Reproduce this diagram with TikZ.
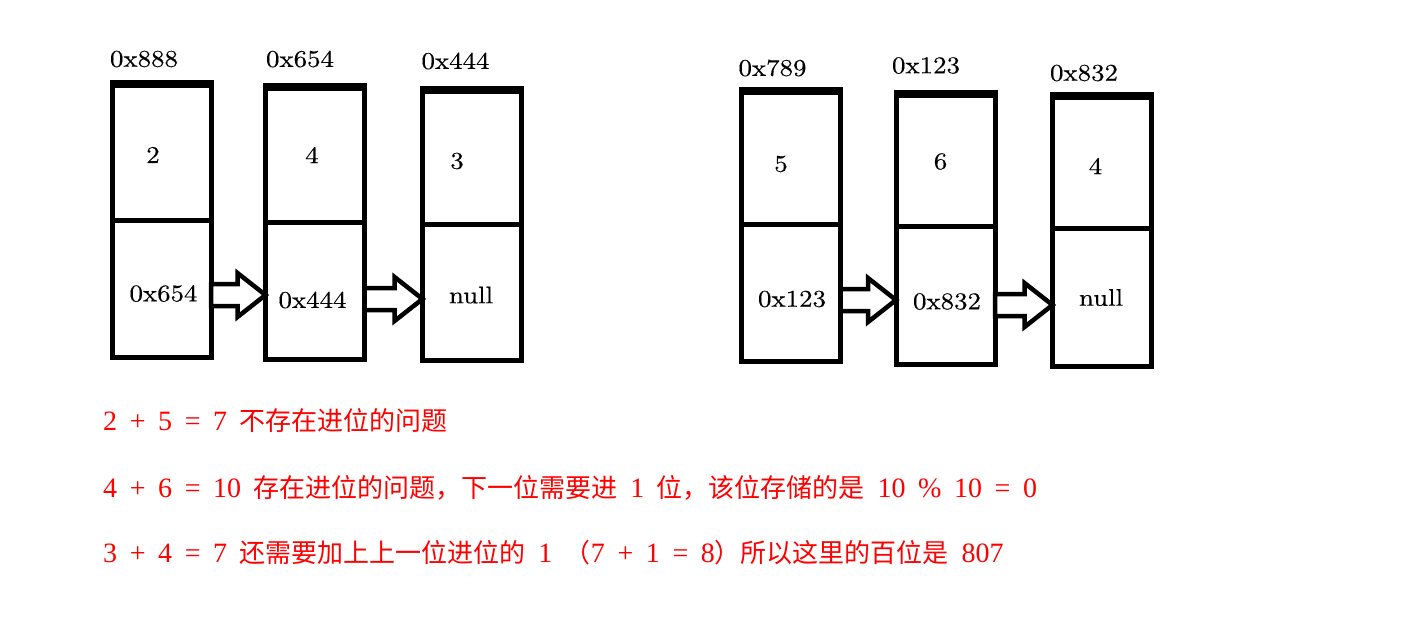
\documentclass[tikz,border=0pt]{standalone}
\usepackage{fontspec}
\newfontfamily\cjk{Noto Sans CJK SC}
\newfontfamily\lat{Liberation Serif}[WordSpace=1.8]
\newfontfamily\boxfont{lmroman10-regular.otf}[FakeStretch=1.12,FakeBold=0.4]
\usetikzlibrary{calc}
\newcommand\asc[1]{{\lat\fontsize{28}{30}\selectfont #1}}
\newcommand\han[1]{{\cjk\fontsize{26}{30}\selectfont #1}}
\tikzset{
  cell/.style={draw, line width=5pt, minimum width=99pt, inner sep=0pt, outer sep=0pt},
  addr/.style={font={\boxfont\fontsize{24}{24}\selectfont}, inner sep=0pt},
  barrow/.style={draw, line width=4.5pt, fill=white, line join=miter},
  note/.style={anchor=base west, text=red, inner sep=0pt},
}
\newcommand\linkarrow[3]{%
  \draw[barrow] let \p1=(#1.east), \p2=(#2.west) in
    (\x1,{-(#3-11)*1pt}) -- (\x2-28pt,{-(#3-11)*1pt}) -- (\x2-28pt,{-(#3-22)*1pt})
    -- (\x2,{-(#3)*1pt}) -- (\x2-28pt,{-(#3+22)*1pt}) -- (\x2-28pt,{-(#3+11)*1pt})
    -- (\x1,{-(#3+11)*1pt}) -- cycle;}
\newcommand\topbar[1]{%
  \fill ([shift={(-2.5pt,2.5pt)}]#1.north west) rectangle ([shift={(2.5pt,-6pt)}]#1.north east);}
\begin{document}
\begin{tikzpicture}[x=1pt,y=-1pt]
\fill[white] (0,0) rectangle (1413,630);
\useasboundingbox (0,0) rectangle (1413,630);

% left list
\node[cell, minimum height=138pt] (d1) at (161.5,151) {};
\node[cell, minimum height=137pt] (p1) at (161.5,288.5) {};
\node[cell, minimum height=137pt] (d2) at (315,153.5) {};
\node[cell, minimum height=137pt] (p2) at (315,290.5) {};
\node[cell, minimum height=136pt] (d3) at (472,156) {};
\node[cell, minimum height=136pt] (p3) at (472,292) {};
% right list
\node[cell, minimum height=135pt] (d4) at (791,156.5) {};
\node[cell, minimum height=137pt] (p4) at (791,292.5) {};
\node[cell, minimum height=134pt] (d5) at (945.5,159) {};
\node[cell, minimum height=138pt] (p5) at (945.5,295) {};
\node[cell, minimum height=134pt] (d6) at (1102,161) {};
\node[cell, minimum height=138pt] (p6) at (1102,297) {};

\topbar{d1}\topbar{d2}\topbar{d3}\topbar{d4}\topbar{d5}\topbar{d6}

\linkarrow{p1}{p2}{295}
\linkarrow{p2}{p3}{299}
\linkarrow{p4}{p5}{300}
\linkarrow{p5}{p6}{305}

% addresses
\node[addr] (a1) at (144,59) {0x888};
\node[addr] (a2) at (300,59) {0x654};
\node[addr] (a3) at (455.5,61) {0x444};
\node[addr] (a4) at (772.5,68) {0x789};
\node[addr] (a5) at (926,65.5) {0x123};
\node[addr] (a6) at (1084,73) {0x832};

% values
\node[addr] (v1) at (153,155) {2};
\node[addr] (v2) at (312,155) {4};
\node[addr] (v3) at (457,161) {3};
\node[addr] (v4) at (781,164) {5};
\node[addr] (v5) at (940.5,161.5) {6};
\node[addr] (v6) at (1095.5,166) {4};

% next pointers
\node[addr] (n1) at (163.5,293.5) {0x654};
\node[addr] (n2) at (312.5,300) {0x444};
\node[addr] (n3) at (471,295) {null};
\node[addr] (n4) at (792,299) {0x123};
\node[addr] (n5) at (947,301.5) {0x832};
\node[addr] (n6) at (1101,297.5) {null};

% notes
\node[note] (t1) at (103,430) {\asc{2 + 5 = 7 }\han{不存在进位的问题}};
\node[note] (t2) at (103,497) {\asc{4 + 6 = 10 }\han{存在进位的问题，下一位需要进}\asc{ 1 }\han{位，该位存储的是}\asc{ 10 \% 10 = 0}};
\node[note] (t3) at (103,562) {\asc{3 + 4 = 7 }\han{还需要加上上一位进位的}\asc{ 1 }\han{（}\asc{7 + 1 = 8}\han{）所以这里的百位是}\asc{ 807}};
\end{tikzpicture}
\end{document}
